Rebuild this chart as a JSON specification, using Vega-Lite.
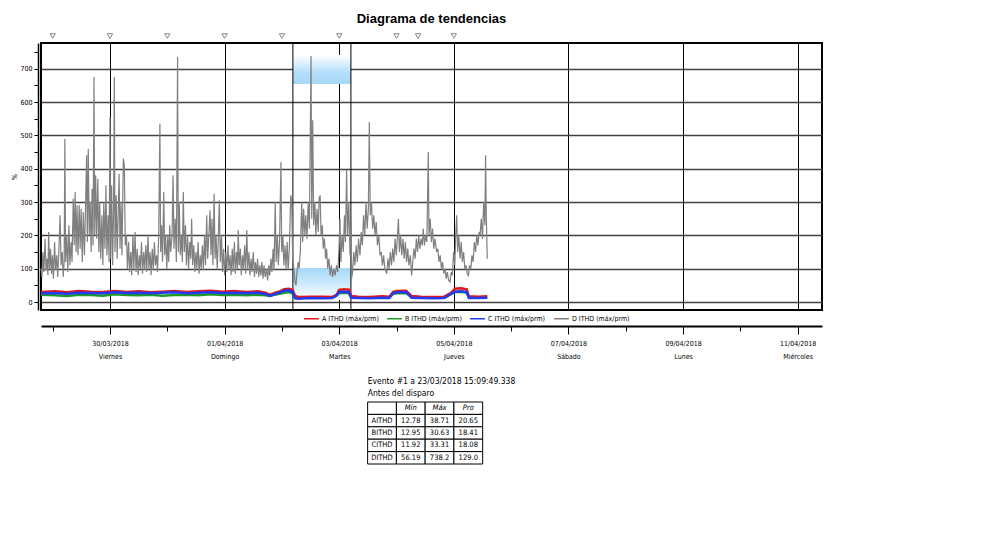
{
"$schema": "https://vega.github.io/schema/vega-lite/v6.json",
"background": "white",
"padding": {"left": 9, "top": 11, "right": 5, "bottom": 5},
"config": {
  "font": "Liberation Sans Narrow, DejaVu Sans Condensed, sans-serif",
  "view": {"stroke": null},
  "axisY": {"labelOverlap": false, "tickCount": 16}
},
"datasets": {
  "gray": [
{"h":19.1,"v":100},{"h":19.5,"v":75},{"h":19.9,"v":150},{"h":20.3,"v":90},{"h":20.8,"v":190},{"h":21.2,"v":95},{"h":21.6,"v":130},{"h":22.0,"v":80},{"h":22.3,"v":210},{"h":22.7,"v":100},{"h":23.1,"v":160},{"h":23.5,"v":85},{"h":23.9,"v":140},{"h":24.3,"v":70},{"h":24.8,"v":180},{"h":25.2,"v":95},{"h":25.7,"v":140},{"h":26.1,"v":75},{"h":26.6,"v":160},{"h":27.1,"v":260},{"h":27.5,"v":110},{"h":28.0,"v":150},{"h":28.4,"v":75},{"h":28.8,"v":120},{"h":29.1,"v":490},{"h":29.4,"v":120},{"h":29.9,"v":200},{"h":30.3,"v":90},{"h":30.8,"v":230},{"h":31.2,"v":110},{"h":31.7,"v":180},{"h":32.1,"v":120},{"h":32.6,"v":310},{"h":33.0,"v":170},{"h":33.4,"v":330},{"h":33.8,"v":150},{"h":34.2,"v":290},{"h":34.6,"v":140},{"h":35.1,"v":290},{"h":35.5,"v":160},{"h":35.9,"v":280},{"h":36.4,"v":120},{"h":36.8,"v":270},{"h":37.3,"v":140},{"h":37.8,"v":300},{"h":38.2,"v":440},{"h":38.5,"v":180},{"h":38.9,"v":460},{"h":39.3,"v":200},{"h":39.7,"v":300},{"h":40.1,"v":150},{"h":40.5,"v":340},{"h":40.9,"v":170},{"h":41.3,"v":675},{"h":41.6,"v":200},{"h":42.0,"v":380},{"h":42.4,"v":190},{"h":42.9,"v":370},{"h":43.3,"v":150},{"h":43.7,"v":300},{"h":44.1,"v":130},{"h":44.6,"v":260},{"h":45.0,"v":110},{"h":45.4,"v":300},{"h":45.9,"v":160},{"h":46.3,"v":350},{"h":46.7,"v":140},{"h":47.2,"v":260},{"h":47.6,"v":120},{"h":48.0,"v":555},{"h":48.3,"v":130},{"h":48.7,"v":350},{"h":49.1,"v":110},{"h":49.5,"v":280},{"h":49.8,"v":675},{"h":50.1,"v":150},{"h":50.6,"v":320},{"h":51.0,"v":130},{"h":51.4,"v":260},{"h":51.8,"v":385},{"h":52.2,"v":160},{"h":52.6,"v":300},{"h":53.0,"v":140},{"h":53.6,"v":430},{"h":54.0,"v":410},{"h":54.4,"v":170},{"h":54.9,"v":200},{"h":55.3,"v":100},{"h":55.8,"v":180},{"h":56.2,"v":90},{"h":56.7,"v":150},{"h":57.1,"v":80},{"h":57.6,"v":200},{"h":58.0,"v":100},{"h":58.5,"v":210},{"h":58.9,"v":90},{"h":59.4,"v":160},{"h":59.8,"v":80},{"h":60.3,"v":140},{"h":60.7,"v":100},{"h":61.2,"v":180},{"h":61.6,"v":85},{"h":62.1,"v":150},{"h":62.5,"v":95},{"h":63.0,"v":170},{"h":63.4,"v":90},{"h":63.9,"v":200},{"h":64.3,"v":100},{"h":64.8,"v":150},{"h":65.2,"v":80},{"h":65.7,"v":160},{"h":66.1,"v":95},{"h":66.6,"v":180},{"h":67.0,"v":110},{"h":67.5,"v":140},{"h":67.9,"v":90},{"h":68.4,"v":200},{"h":68.9,"v":535},{"h":69.2,"v":150},{"h":69.6,"v":230},{"h":70.0,"v":120},{"h":70.5,"v":330},{"h":70.9,"v":140},{"h":71.3,"v":200},{"h":71.8,"v":100},{"h":72.2,"v":200},{"h":72.6,"v":120},{"h":73.0,"v":230},{"h":73.4,"v":150},{"h":74.0,"v":200},{"h":74.4,"v":380},{"h":74.8,"v":160},{"h":75.3,"v":250},{"h":75.8,"v":120},{"h":76.3,"v":735},{"h":76.6,"v":150},{"h":77.0,"v":300},{"h":77.4,"v":140},{"h":77.9,"v":200},{"h":78.3,"v":120},{"h":78.7,"v":330},{"h":79.1,"v":150},{"h":79.6,"v":230},{"h":80.0,"v":110},{"h":80.5,"v":200},{"h":80.9,"v":100},{"h":81.4,"v":180},{"h":81.8,"v":130},{"h":82.2,"v":250},{"h":82.6,"v":110},{"h":83.1,"v":170},{"h":83.5,"v":90},{"h":84.0,"v":150},{"h":84.4,"v":100},{"h":84.9,"v":180},{"h":85.3,"v":85},{"h":85.8,"v":140},{"h":86.2,"v":100},{"h":86.7,"v":170},{"h":87.1,"v":95},{"h":87.6,"v":200},{"h":88.0,"v":110},{"h":88.5,"v":260},{"h":88.9,"v":130},{"h":89.4,"v":200},{"h":89.9,"v":275},{"h":90.3,"v":140},{"h":90.7,"v":250},{"h":91.1,"v":110},{"h":91.6,"v":325},{"h":92.0,"v":130},{"h":92.4,"v":200},{"h":92.9,"v":100},{"h":93.3,"v":180},{"h":93.8,"v":305},{"h":94.2,"v":120},{"h":94.7,"v":200},{"h":95.1,"v":90},{"h":95.6,"v":160},{"h":96.0,"v":80},{"h":96.5,"v":150},{"h":96.9,"v":90},{"h":97.4,"v":170},{"h":97.8,"v":100},{"h":98.3,"v":140},{"h":98.7,"v":80},{"h":99.2,"v":160},{"h":99.6,"v":90},{"h":100.1,"v":180},{"h":100.5,"v":85},{"h":101.0,"v":150},{"h":101.4,"v":100},{"h":101.7,"v":215},{"h":102.1,"v":110},{"h":102.6,"v":160},{"h":103.0,"v":80},{"h":103.5,"v":140},{"h":103.9,"v":100},{"h":104.4,"v":170},{"h":104.8,"v":85},{"h":105.3,"v":215},{"h":105.7,"v":100},{"h":106.2,"v":150},{"h":106.6,"v":80},{"h":107.1,"v":130},{"h":107.5,"v":90},{"h":108.0,"v":150},{"h":108.5,"v":75},{"h":108.9,"v":120},{"h":109.4,"v":85},{"h":109.8,"v":130},{"h":110.3,"v":75},{"h":110.7,"v":110},{"h":111.2,"v":80},{"h":111.6,"v":120},{"h":112.1,"v":70},{"h":112.5,"v":110},{"h":113.0,"v":75},{"h":113.6,"v":100},{"h":114.0,"v":65},{"h":114.5,"v":110},{"h":114.9,"v":80},{"h":115.4,"v":130},{"h":115.8,"v":90},{"h":116.3,"v":160},{"h":116.7,"v":95},{"h":117.2,"v":300},{"h":117.6,"v":120},{"h":118.1,"v":200},{"h":118.5,"v":110},{"h":119.0,"v":180},{"h":119.6,"v":420},{"h":119.9,"v":150},{"h":120.4,"v":200},{"h":120.8,"v":110},{"h":121.3,"v":170},{"h":121.7,"v":100},{"h":122.2,"v":180},{"h":122.6,"v":95},{"h":123.1,"v":160},{"h":123.7,"v":320},{"h":124.1,"v":300},{"h":124.5,"v":130},{"h":125.0,"v":100},{"h":125.5,"v":60},{"h":125.9,"v":50},{"h":126.3,"v":90},{"h":126.8,"v":120},{"h":127.2,"v":100},{"h":127.7,"v":150},{"h":128.3,"v":300},{"h":128.7,"v":180},{"h":129.1,"v":280},{"h":129.6,"v":200},{"h":130.0,"v":260},{"h":130.5,"v":190},{"h":131.0,"v":300},{"h":131.5,"v":220},{"h":132.2,"v":738},{"h":132.5,"v":250},{"h":132.9,"v":545},{"h":133.3,"v":230},{"h":133.8,"v":300},{"h":134.2,"v":200},{"h":134.7,"v":280},{"h":135.2,"v":210},{"h":135.6,"v":310},{"h":136.0,"v":320},{"h":136.4,"v":200},{"h":136.9,"v":230},{"h":137.3,"v":160},{"h":137.8,"v":190},{"h":138.3,"v":130},{"h":138.7,"v":160},{"h":139.2,"v":100},{"h":139.7,"v":130},{"h":140.2,"v":80},{"h":140.7,"v":110},{"h":141.2,"v":75},{"h":141.8,"v":100},{"h":142.3,"v":80},{"h":142.9,"v":110},{"h":143.4,"v":90},{"h":143.9,"v":160},{"h":144.3,"v":250},{"h":144.7,"v":120},{"h":145.2,"v":200},{"h":145.7,"v":150},{"h":146.2,"v":260},{"h":146.6,"v":180},{"h":147.1,"v":396},{"h":147.5,"v":200},{"h":148.0,"v":300},{"h":148.5,"v":140},{"h":149.0,"v":240},{"h":149.2,"v":70},{"h":149.6,"v":90},{"h":150.1,"v":150},{"h":150.6,"v":110},{"h":151.1,"v":170},{"h":151.6,"v":120},{"h":152.1,"v":190},{"h":152.7,"v":140},{"h":153.2,"v":210},{"h":153.7,"v":170},{"h":154.2,"v":260},{"h":154.7,"v":200},{"h":155.2,"v":300},{"h":155.7,"v":220},{"h":156.2,"v":280},{"h":156.6,"v":540},{"h":157.0,"v":260},{"h":157.5,"v":300},{"h":158.0,"v":220},{"h":158.5,"v":260},{"h":159.0,"v":200},{"h":159.5,"v":240},{"h":160.0,"v":170},{"h":160.6,"v":200},{"h":161.1,"v":140},{"h":161.6,"v":150},{"h":162.1,"v":110},{"h":162.6,"v":140},{"h":163.1,"v":100},{"h":163.9,"v":85},{"h":164.4,"v":130},{"h":164.9,"v":100},{"h":165.4,"v":150},{"h":165.9,"v":110},{"h":166.4,"v":160},{"h":166.9,"v":120},{"h":167.4,"v":190},{"h":167.9,"v":140},{"h":168.4,"v":200},{"h":168.8,"v":250},{"h":169.2,"v":150},{"h":169.7,"v":200},{"h":170.2,"v":140},{"h":170.7,"v":190},{"h":171.2,"v":130},{"h":171.7,"v":180},{"h":172.2,"v":120},{"h":172.7,"v":160},{"h":173.2,"v":110},{"h":173.8,"v":140},{"h":174.3,"v":80},{"h":174.8,"v":120},{"h":175.3,"v":160},{"h":175.8,"v":130},{"h":176.3,"v":190},{"h":176.8,"v":150},{"h":177.3,"v":200},{"h":177.8,"v":160},{"h":178.3,"v":190},{"h":178.8,"v":170},{"h":179.2,"v":220},{"h":179.7,"v":170},{"h":180.2,"v":200},{"h":180.7,"v":180},{"h":181.3,"v":450},{"h":181.6,"v":200},{"h":182.1,"v":250},{"h":182.6,"v":180},{"h":183.1,"v":220},{"h":183.6,"v":160},{"h":184.1,"v":190},{"h":184.8,"v":150},{"h":185.3,"v":160},{"h":185.8,"v":120},{"h":186.3,"v":140},{"h":186.8,"v":100},{"h":187.3,"v":120},{"h":187.8,"v":85},{"h":188.3,"v":100},{"h":188.8,"v":70},{"h":189.3,"v":90},{"h":189.8,"v":65},{"h":190.4,"v":60},{"h":190.9,"v":90},{"h":191.4,"v":80},{"h":191.9,"v":150},{"h":192.4,"v":110},{"h":192.8,"v":200},{"h":193.2,"v":260},{"h":193.6,"v":150},{"h":194.1,"v":200},{"h":194.6,"v":130},{"h":195.1,"v":180},{"h":195.6,"v":120},{"h":196.1,"v":150},{"h":196.6,"v":100},{"h":197.1,"v":110},{"h":197.6,"v":85},{"h":198.1,"v":80},{"h":198.6,"v":110},{"h":199.1,"v":100},{"h":199.6,"v":140},{"h":200.1,"v":120},{"h":200.6,"v":180},{"h":201.1,"v":150},{"h":201.6,"v":200},{"h":202.1,"v":170},{"h":202.6,"v":210},{"h":203.0,"v":200},{"h":203.5,"v":250},{"h":204.0,"v":190},{"h":204.5,"v":300},{"h":205.0,"v":230},{"h":205.3,"v":440},{"h":205.6,"v":260},{"h":206.0,"v":130}
  ],
  "red": [
{"h":19.1,"v":30},{"h":25,"v":32},{"h":30,"v":29},{"h":35,"v":33},{"h":40,"v":31},{"h":45,"v":30},{"h":50,"v":33},{"h":55,"v":30},{"h":60,"v":32},{"h":65,"v":29},{"h":70,"v":31},{"h":75,"v":33},{"h":80,"v":30},{"h":85,"v":32},{"h":90,"v":34},{"h":95,"v":31},{"h":100,"v":33},{"h":105,"v":30},{"h":110,"v":32},{"h":113,"v":28},{"h":115,"v":22},{"h":117,"v":27},{"h":119,"v":32},{"h":121,"v":38},{"h":123,"v":40},{"h":124.5,"v":36},{"h":125.5,"v":18},{"h":127,"v":15},{"h":132,"v":16},{"h":137,"v":16},{"h":141,"v":15},{"h":143,"v":22},{"h":144,"v":36},{"h":146,"v":38},{"h":148,"v":37},{"h":149,"v":18},{"h":152,"v":16},{"h":157,"v":15},{"h":162,"v":17},{"h":165,"v":16},{"h":166.5,"v":30},{"h":168,"v":33},{"h":172,"v":34},{"h":174.3,"v":18},{"h":178,"v":16},{"h":183,"v":15},{"h":188,"v":16},{"h":191,"v":28},{"h":192.5,"v":40},{"h":195,"v":41},{"h":197.4,"v":38},{"h":198.3,"v":17},{"h":202,"v":16},{"h":206,"v":17}
  ],
  "green": [
{"h":19.1,"v":22},{"h":25,"v":20},{"h":30,"v":18},{"h":35,"v":22},{"h":40,"v":21},{"h":45,"v":19},{"h":50,"v":23},{"h":55,"v":21},{"h":60,"v":20},{"h":65,"v":22},{"h":70,"v":19},{"h":75,"v":21},{"h":80,"v":22},{"h":85,"v":20},{"h":90,"v":23},{"h":95,"v":21},{"h":100,"v":22},{"h":105,"v":20},{"h":110,"v":22},{"h":113,"v":20},{"h":115,"v":18},{"h":117,"v":22},{"h":119,"v":25},{"h":121,"v":28},{"h":123,"v":30},{"h":124.5,"v":25},{"h":125.5,"v":15},{"h":127,"v":13},{"h":132,"v":13},{"h":137,"v":14},{"h":141,"v":13},{"h":143,"v":20},{"h":144,"v":27},{"h":146,"v":28},{"h":148,"v":27},{"h":149,"v":15},{"h":152,"v":13},{"h":157,"v":13},{"h":162,"v":14},{"h":165,"v":14},{"h":166.5,"v":24},{"h":168,"v":26},{"h":172,"v":27},{"h":174.3,"v":15},{"h":178,"v":14},{"h":183,"v":13},{"h":188,"v":14},{"h":191,"v":24},{"h":192.5,"v":30},{"h":195,"v":31},{"h":197.4,"v":28},{"h":198.3,"v":14},{"h":202,"v":13},{"h":206,"v":14}
  ],
  "blue": [
{"h":19.1,"v":26},{"h":25,"v":27},{"h":30,"v":25},{"h":35,"v":28},{"h":40,"v":27},{"h":45,"v":26},{"h":50,"v":29},{"h":55,"v":27},{"h":60,"v":28},{"h":65,"v":26},{"h":70,"v":28},{"h":75,"v":29},{"h":80,"v":26},{"h":85,"v":28},{"h":90,"v":29},{"h":95,"v":27},{"h":100,"v":28},{"h":105,"v":26},{"h":110,"v":28},{"h":113,"v":24},{"h":115,"v":18},{"h":117,"v":24},{"h":119,"v":28},{"h":121,"v":34},{"h":123,"v":35},{"h":124.5,"v":30},{"h":125.5,"v":11},{"h":127,"v":10},{"h":132,"v":12},{"h":137,"v":11},{"h":141,"v":12},{"h":143,"v":20},{"h":144,"v":30},{"h":146,"v":31},{"h":148,"v":30},{"h":149,"v":13},{"h":152,"v":12},{"h":157,"v":11},{"h":162,"v":13},{"h":165,"v":12},{"h":166.5,"v":26},{"h":168,"v":29},{"h":172,"v":30},{"h":174.3,"v":13},{"h":178,"v":12},{"h":183,"v":11},{"h":188,"v":12},{"h":191,"v":25},{"h":192.5,"v":31},{"h":195,"v":32},{"h":197.4,"v":30},{"h":198.3,"v":12},{"h":202,"v":12},{"h":206,"v":13}
  ],
  "events": [{"h":24},{"h":48},{"h":72},{"h":96},{"h":120},{"h":144},{"h":168},{"h":177},{"h":192}],
  "cursors": [{"h":124.6},{"h":148.9}],
  "table": [
{"r":"h","c":"l","t":""},{"r":"h","c":"mn","t":"Mín"},{"r":"h","c":"mx","t":"Máx"},{"r":"h","c":"pr","t":"Pro"},
{"r":"A","c":"l","t":"AITHD"},{"r":"A","c":"mn","t":"12.78"},{"r":"A","c":"mx","t":"38.71"},{"r":"A","c":"pr","t":"20.65"},
{"r":"B","c":"l","t":"BITHD"},{"r":"B","c":"mn","t":"12.95"},{"r":"B","c":"mx","t":"30.63"},{"r":"B","c":"pr","t":"18.41"},
{"r":"C","c":"l","t":"CITHD"},{"r":"C","c":"mn","t":"11.92"},{"r":"C","c":"mx","t":"33.31"},{"r":"C","c":"pr","t":"18.08"},
{"r":"D","c":"l","t":"DITHD"},{"r":"D","c":"mn","t":"56.19"},{"r":"D","c":"mx","t":"738.2"},{"r":"D","c":"pr","t":"129.0"}
  ]
},
"vconcat": [
  {
    "width": 781,
    "height": 267,
    "view": {"stroke": "black", "strokeWidth": 2},
    "title": {"text": "Diagrama de tendencias", "font": "Liberation Sans", "fontSize": 13, "fontWeight": "bold", "anchor": "middle", "offset": 6, "color": "black"},
    "layer": [
      {
        "data": {"values": [{"h": 124.6, "h2": 148.9, "v": 654, "v2": 741}]},
        "mark": {"type": "rect", "color": {"gradient": "linear", "x1": 0, "y1": 0, "x2": 0, "y2": 1, "stops": [{"offset": 0, "color": "#ffffff"}, {"offset": 0.6, "color": "#b5e0fa"}, {"offset": 1, "color": "#a6d8f7"}]}},
        "encoding": {
          "x": {"field": "h", "type": "quantitative"},
          "x2": {"field": "h2"},
          "y": {"field": "v", "type": "quantitative"},
          "y2": {"field": "v2"}
        }
      },
      {
        "data": {"values": [{"h": 124.6, "h2": 148.9, "v": 6, "v2": 102}]},
        "mark": {"type": "rect", "color": {"gradient": "linear", "x1": 0, "y1": 0, "x2": 0, "y2": 1, "stops": [{"offset": 0, "color": "#a6d8f7"}, {"offset": 0.45, "color": "#c9e9fb"}, {"offset": 1, "color": "#ffffff"}]}},
        "encoding": {
          "x": {"field": "h", "type": "quantitative"},
          "x2": {"field": "h2"},
          "y": {"field": "v", "type": "quantitative"},
          "y2": {"field": "v2"}
        }
      },
      {
        "data": {"name": "cursors"},
        "mark": {"type": "rule", "color": "black", "strokeWidth": 1},
        "encoding": {"x": {"field": "h", "type": "quantitative"}}
      },
      {
        "data": {"name": "gray"},
        "mark": {"type": "line", "strokeWidth": 1.2},
        "encoding": {
          "x": {
            "field": "h", "type": "quantitative",
            "scale": {"domain": [19.1, 346.2], "nice": false, "zero": false},
            "axis": {
              "title": null,
              "values": [24,48,72,96,120,144,168,192,216,240,264,288,312,336],
              "labelExpr": "(datum.value/24)%2==0 ? [timeFormat(datetime(2018,2,28+datum.value/24),'%d/%m/%Y'), ['Domingo','Lunes','Martes','Miércoles','Jueves','Viernes','Sábado'][day(datetime(2018,2,28+datum.value/24))]] : ''",
              "offset": 16,
              "domainColor": "black", "domainWidth": 2,
              "tickColor": "black", "tickWidth": 1,
              "tickSize": {"condition": {"test": "(datum.value/24)%2==0", "value": 8}, "value": 5},
              "labelFontSize": 7, "labelLineHeight": 13, "labelPadding": 5, "labelColor": "black",
              "labelOverlap": false, "labelFlush": false,
              "grid": true, "gridColor": "black", "gridWidth": 1,
              "gridOpacity": {"condition": {"test": "(datum.value/24)%2==0", "value": 1}, "value": 0}
            }
          },
          "y": {
            "field": "v", "type": "quantitative",
            "scale": {"domain": [-24, 777], "nice": false, "zero": false},
            "axis": {
              "title": "%", "titleFontSize": 7, "titleFontWeight": "normal", "titlePadding": 2, "titleColor": "black",
              "values": [0,50,100,150,200,250,300,350,400,450,500,550,600,650,700,750],
              "tickCount": 16,
              "labelExpr": "datum.value % 100 == 0 ? datum.label : ''",
              "labelOverlap": false,
              "offset": 3,
              "domainColor": "black", "domainWidth": 1.5,
              "tickColor": "black", "tickSize": 4,
              "labelFontSize": 7, "labelPadding": 2, "labelColor": "black",
              "grid": true, "gridColor": "#404040", "gridWidth": 1.5,
              "gridOpacity": {"condition": {"test": "datum.value % 100 == 0", "value": 1}, "value": 0}
            }
          },
          "color": {
            "datum": "D ITHD (máx/prm)", "type": "nominal",
            "scale": {"domain": ["A ITHD (máx/prm)", "B ITHD (máx/prm)", "C ITHD (máx/prm)", "D ITHD (máx/prm)"], "range": ["#e3141c", "#1e9a28", "#1f3cf0", "#808080"]},
            "legend": {"title": null, "orient": "none", "legendX": 262, "legendY": 267, "direction": "horizontal", "symbolType": "stroke", "symbolSize": 220, "symbolStrokeWidth": 1.5, "labelFontSize": 7, "labelColor": "black", "columnPadding": 5, "labelOffset": 2, "padding": 0}
          }
        }
      },
      {
        "data": {"name": "green"},
        "mark": {"type": "line", "strokeWidth": 2.5},
        "encoding": {
          "x": {"field": "h", "type": "quantitative"},
          "y": {"field": "v", "type": "quantitative"},
          "color": {"datum": "B ITHD (máx/prm)", "type": "nominal"}
        }
      },
      {
        "data": {"name": "red"},
        "mark": {"type": "line", "strokeWidth": 2.5},
        "encoding": {
          "x": {"field": "h", "type": "quantitative"},
          "y": {"field": "v", "type": "quantitative"},
          "color": {"datum": "A ITHD (máx/prm)", "type": "nominal"}
        }
      },
      {
        "data": {"name": "blue"},
        "mark": {"type": "line", "strokeWidth": 2.5},
        "encoding": {
          "x": {"field": "h", "type": "quantitative"},
          "y": {"field": "v", "type": "quantitative"},
          "color": {"datum": "C ITHD (máx/prm)", "type": "nominal"}
        }
      },
      {
        "data": {"name": "events"},
        "mark": {"type": "point", "shape": "triangle-down", "filled": false, "size": 28, "color": "#555555", "strokeWidth": 1},
        "encoding": {
          "x": {"field": "h", "type": "quantitative"},
          "y": {"datum": 798, "type": "quantitative"}
        }
      }
    ]
  },
  {
    "width": 134,
    "height": 62,
    "title": {"text": "Evento #1 a 23/03/2018 15:09:49.338", "subtitle": "Antes del disparo", "anchor": "start", "frame": "group", "dx": 19, "fontSize": 8.5, "fontWeight": "normal", "subtitleFontSize": 8.5, "subtitlePadding": 4, "subtitleColor": "black", "color": "black", "offset": 4},
    "data": {"name": "table"},
    "encoding": {
      "x": {"field": "c", "type": "nominal", "scale": {"domain": ["l","mn","mx","pr"], "paddingInner": 0, "paddingOuter": 0.33, "align": 1}, "axis": null},
      "y": {"field": "r", "type": "nominal", "scale": {"domain": ["h","A","B","C","D"], "paddingInner": 0, "paddingOuter": 0}, "axis": null}
    },
    "layer": [
      {"mark": {"type": "rect", "fill": "white", "stroke": "black", "strokeWidth": 1}},
      {"transform": [{"filter": "datum.r != 'h'"}], "mark": {"type": "text", "fontSize": 7.5, "color": "black"}, "encoding": {"text": {"field": "t"}}},
      {"transform": [{"filter": "datum.r == 'h'"}], "mark": {"type": "text", "fontSize": 7.5, "fontStyle": "italic", "color": "black"}, "encoding": {"text": {"field": "t"}}}
    ]
  }
],
"center": true,
"spacing": 16
}
